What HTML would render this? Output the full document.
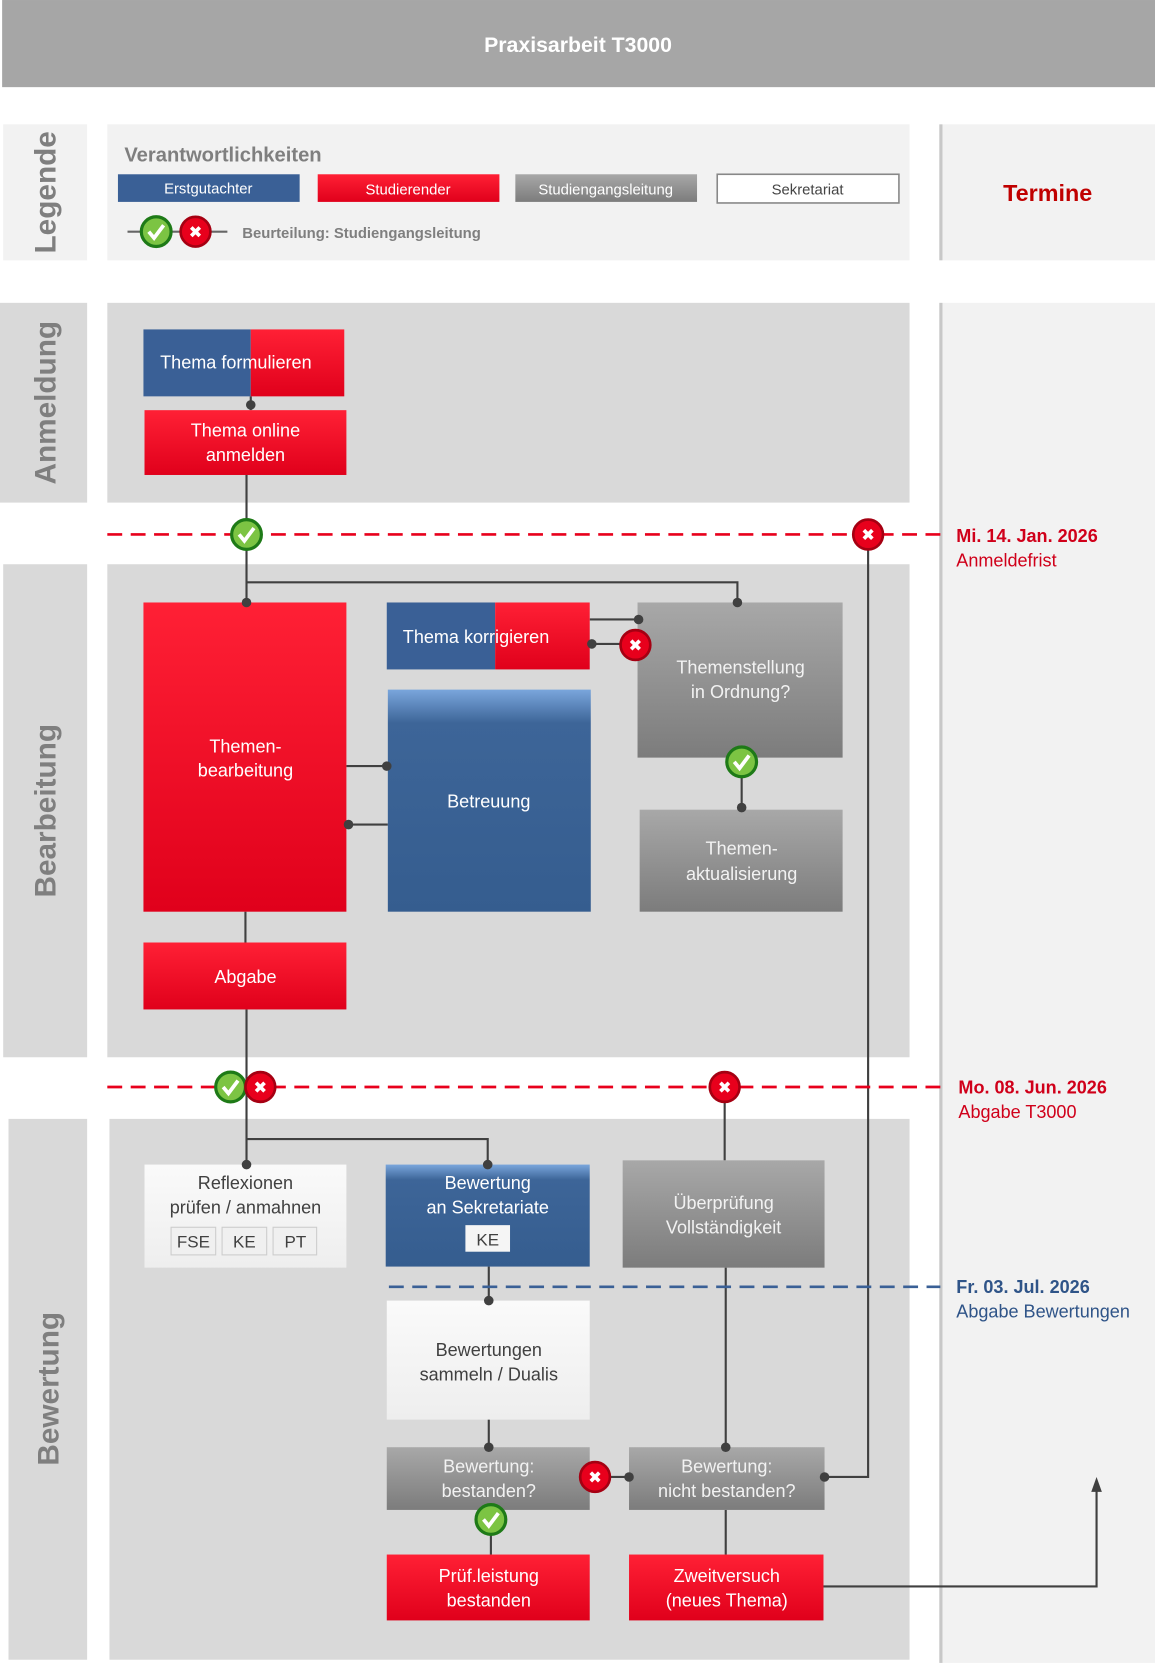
<!DOCTYPE html>
<html><head><meta charset="utf-8"><style>html,body{margin:0;padding:0;background:#fff}svg{display:block}text{font-family:"Liberation Sans",sans-serif}</style></head>
<body>
<svg width="1155" height="1664" viewBox="0 0 1087 1566" xmlns="http://www.w3.org/2000/svg">
<defs>
<linearGradient id="rd" x1="0" y1="0" x2="0" y2="1"><stop offset="0" stop-color="#ff2035"/><stop offset="1" stop-color="#e0001b"/></linearGradient>
<linearGradient id="gr" x1="0" y1="0" x2="0" y2="1"><stop offset="0" stop-color="#a8a8a8"/><stop offset="1" stop-color="#7c7c7c"/></linearGradient>
<linearGradient id="bl" x1="0" y1="0" x2="0" y2="1"><stop offset="0" stop-color="#7aa6dc"/><stop offset="0.15" stop-color="#3d6598"/><stop offset="1" stop-color="#355d8f"/></linearGradient>
<linearGradient id="wh" x1="0" y1="0" x2="0" y2="1"><stop offset="0" stop-color="#fafafa"/><stop offset="1" stop-color="#eeeeee"/></linearGradient>
<g id="ok"><circle r="14" fill="#7cc443" stroke="#1e7a17" stroke-width="3"/><path d="M-7 0 L-2 6 L7 -6" fill="none" stroke="#fff" stroke-width="3.5"/></g>
<g id="no"><circle r="14" fill="#e8001c" stroke="#a50012" stroke-width="2.5"/><path d="M-4 -4 L4 4 M4 -4 L-4 4" stroke="#fff" stroke-width="3.5"/></g>
</defs>
<rect x="0" y="0" width="1087" height="1566" fill="#fff"/>
<rect x="2" y="0" width="1085" height="82" fill="#a6a6a6"/>
<text x="544" y="49" font-size="20" font-weight="bold" fill="#fff" text-anchor="middle">Praxisarbeit T3000</text>

<rect x="3" y="117" width="79" height="128" fill="#f2f2f2"/>
<rect x="101" y="117" width="755" height="128" fill="#f2f2f2"/>
<rect x="887" y="117" width="200" height="128" fill="#f2f2f2"/>
<rect x="884" y="117" width="3" height="128" fill="#c8c8c8"/>
<rect x="887" y="285" width="200" height="1280" fill="#f2f2f2"/>
<rect x="884" y="285" width="3" height="1280" fill="#c8c8c8"/>
<text x="986" y="189" font-size="22" font-weight="bold" fill="#c00000" text-anchor="middle">Termine</text>

<rect x="0" y="285" width="82" height="188" fill="#d9d9d9"/>
<rect x="101" y="285" width="755" height="188" fill="#d9d9d9"/>
<rect x="3" y="531" width="79" height="464" fill="#d9d9d9"/>
<rect x="101" y="531" width="755" height="464" fill="#d9d9d9"/>
<rect x="8" y="1053" width="74" height="509" fill="#d9d9d9"/>
<rect x="103" y="1053" width="753" height="509" fill="#d9d9d9"/>

<g font-size="28" font-weight="bold" fill="#7f7f7f" text-anchor="middle">
<text transform="translate(52,181) rotate(-90)">Legende</text>
<text transform="translate(52,379) rotate(-90)">Anmeldung</text>
<text transform="translate(52,763) rotate(-90)">Bearbeitung</text>
<text transform="translate(55,1307) rotate(-90)">Bewertung</text>
</g>

<text x="117" y="152" font-size="19" font-weight="bold" fill="#7f7f7f">Verantwortlichkeiten</text>
<rect x="111" y="164" width="171" height="26" fill="#3a6096"/>
<text x="196" y="182" font-size="14" fill="#fff" text-anchor="middle">Erstgutachter</text>
<rect x="299" y="164" width="171" height="26" fill="url(#rd)"/>
<text x="384" y="183" font-size="14" fill="#fff" text-anchor="middle">Studierender</text>
<rect x="485" y="164" width="171" height="26" fill="url(#gr)"/>
<text x="570" y="183" font-size="14" fill="#fff" text-anchor="middle">Studiengangsleitung</text>
<rect x="675" y="164" width="171" height="27" fill="#fff" stroke="#888" stroke-width="1.5"/>
<text x="760" y="183" font-size="14" fill="#444" text-anchor="middle">Sekretariat</text>
<line x1="120" y1="218" x2="214" y2="218" stroke="#666" stroke-width="2"/>
<use href="#ok" x="147" y="218"/><use href="#no" x="184" y="218"/>
<text x="228" y="224" font-size="14" font-weight="bold" fill="#7f7f7f">Beurteilung: Studiengangsleitung</text>

<g stroke="#404040" stroke-width="2" fill="none">
<path d="M236 373 V386"/>
<path d="M232 447 V567"/>
<path d="M232 548 H694 V567"/>
<path d="M555 583 H601"/>
<path d="M555 606 H600"/>
<path d="M698 713 V760"/>
<path d="M326 721 H364"/>
<path d="M326 776 H365"/>
<path d="M231 858 V887"/>
<path d="M232 950 V1096"/>
<path d="M232 1072 H459 V1096"/>
<path d="M682 1023 V1092"/>
<path d="M460 1192 V1224"/>
<path d="M460 1336 V1362"/>
<path d="M683 1193 V1362"/>
<path d="M555 1390 H592"/>
<path d="M462 1421 V1463"/>
<path d="M683 1421 V1463"/>
<path d="M776 1390 H817 V503"/>
<path d="M775 1493 H1032 V1400"/>
</g>
<path d="M1032 1390 L1027 1404 L1037 1404 Z" fill="#404040"/>

<line x1="101" y1="503" x2="885" y2="503" stroke="#e8001c" stroke-width="2.5" stroke-dasharray="14,8"/>
<line x1="101" y1="1023" x2="885" y2="1023" stroke="#e8001c" stroke-width="2.5" stroke-dasharray="14,8"/>
<line x1="366" y1="1211" x2="885" y2="1211" stroke="#3a6096" stroke-width="2.5" stroke-dasharray="14,8"/>
<text x="900" y="510" font-size="17" font-weight="bold" fill="#d0001a">Mi. 14. Jan. 2026</text>
<text x="900" y="533" font-size="17" fill="#d0001a">Anmeldefrist</text>
<text x="902" y="1029" font-size="17" font-weight="bold" fill="#d0001a">Mo. 08. Jun. 2026</text>
<text x="902" y="1052" font-size="17" fill="#d0001a">Abgabe T3000</text>
<text x="900" y="1217" font-size="17" font-weight="bold" fill="#2f5488">Fr. 03. Jul. 2026</text>
<text x="900" y="1240" font-size="17" fill="#2f5488">Abgabe Bewertungen</text>

<g font-size="17" text-anchor="middle">
<rect x="135" y="310" width="101" height="63" fill="#3a6096"/><rect x="236" y="310" width="88" height="63" fill="url(#rd)"/>
<text x="222" y="347" fill="#fff">Thema formulieren</text>
<rect x="136" y="386" width="190" height="61" fill="url(#rd)"/>
<text x="231" y="411" fill="#fff">Thema online</text><text x="231" y="434" fill="#fff">anmelden</text>

<rect x="135" y="567" width="191" height="291" fill="url(#rd)"/>
<text x="231" y="708" fill="#fff">Themen-</text><text x="231" y="731" fill="#fff">bearbeitung</text>
<rect x="364" y="567" width="102" height="63" fill="#3a6096"/><rect x="466" y="567" width="89" height="63" fill="url(#rd)"/>
<text x="448" y="605" fill="#fff">Thema korrigieren</text>
<rect x="365" y="649" width="191" height="209" fill="url(#bl)"/>
<text x="460" y="760" fill="#fff">Betreuung</text>
<rect x="600" y="567" width="193" height="146" fill="url(#gr)"/>
<text x="697" y="634" fill="#f2f2f2">Themenstellung</text><text x="697" y="657" fill="#f2f2f2">in Ordnung?</text>
<rect x="602" y="762" width="191" height="96" fill="url(#gr)"/>
<text x="698" y="804" fill="#f2f2f2">Themen-</text><text x="698" y="828" fill="#f2f2f2">aktualisierung</text>
<rect x="135" y="887" width="191" height="63" fill="url(#rd)"/>
<text x="231" y="925" fill="#fff">Abgabe</text>

<rect x="136" y="1096" width="190" height="97" fill="url(#wh)"/>
<text x="231" y="1119" fill="#404040">Reflexionen</text><text x="231" y="1142" fill="#404040">prüfen / anmahnen</text>
<rect x="161" y="1155" width="42" height="26" fill="#f0f0f0" stroke="#ccc"/><text x="182" y="1174" fill="#404040" font-size="16">FSE</text>
<rect x="209" y="1155" width="42" height="26" fill="#f0f0f0" stroke="#ccc"/><text x="230" y="1174" fill="#404040" font-size="16">KE</text>
<rect x="257" y="1155" width="41" height="26" fill="#f0f0f0" stroke="#ccc"/><text x="278" y="1174" fill="#404040" font-size="16">PT</text>
<rect x="363" y="1096" width="192" height="96" fill="url(#bl)"/>
<text x="459" y="1119" fill="#fff">Bewertung</text><text x="459" y="1142" fill="#fff">an Sekretariate</text>
<rect x="438" y="1153" width="42" height="25" fill="#f5f5f5"/><text x="459" y="1172" fill="#404040" font-size="16">KE</text>
<rect x="586" y="1092" width="190" height="101" fill="url(#gr)"/>
<text x="681" y="1138" fill="#f2f2f2">Überprüfung</text><text x="681" y="1161" fill="#f2f2f2">Vollständigkeit</text>
<rect x="364" y="1224" width="191" height="112" fill="url(#wh)"/>
<text x="460" y="1276" fill="#404040">Bewertungen</text><text x="460" y="1299" fill="#404040">sammeln / Dualis</text>
<rect x="364" y="1362" width="191" height="59" fill="url(#gr)"/>
<text x="460" y="1386" fill="#f2f2f2">Bewertung:</text><text x="460" y="1409" fill="#f2f2f2">bestanden?</text>
<rect x="592" y="1362" width="184" height="59" fill="url(#gr)"/>
<text x="684" y="1386" fill="#f2f2f2">Bewertung:</text><text x="684" y="1409" fill="#f2f2f2">nicht bestanden?</text>
<rect x="364" y="1463" width="191" height="62" fill="url(#rd)"/>
<text x="460" y="1489" fill="#fff">Prüf.leistung</text><text x="460" y="1512" fill="#fff">bestanden</text>
<rect x="592" y="1463" width="183" height="62" fill="url(#rd)"/>
<text x="684" y="1489" fill="#fff">Zweitversuch</text><text x="684" y="1512" fill="#fff">(neues Thema)</text>
</g>

<g fill="#404040">
<circle cx="236" cy="381" r="4.5"/><circle cx="232" cy="567" r="4.5"/><circle cx="694" cy="567" r="4.5"/>
<circle cx="601" cy="583" r="4.5"/><circle cx="557" cy="606" r="4.5"/><circle cx="698" cy="760" r="4.5"/>
<circle cx="364" cy="721" r="4.5"/><circle cx="328" cy="776" r="4.5"/>
<circle cx="232" cy="1096" r="4.5"/><circle cx="459" cy="1096" r="4.5"/>
<circle cx="460" cy="1224" r="4.5"/><circle cx="460" cy="1362" r="4.5"/><circle cx="683" cy="1362" r="4.5"/>
<circle cx="592" cy="1390" r="4.5"/><circle cx="776" cy="1390" r="4.5"/>
</g>

<use href="#ok" x="232" y="503"/><use href="#no" x="817" y="503"/>
<use href="#no" x="598" y="607"/><use href="#ok" x="698" y="717"/>
<use href="#ok" x="217" y="1023"/><use href="#no" x="245" y="1023"/><use href="#no" x="682" y="1023"/>
<use href="#no" x="560" y="1390"/><use href="#ok" x="462" y="1430"/>
</svg>
</body></html>
